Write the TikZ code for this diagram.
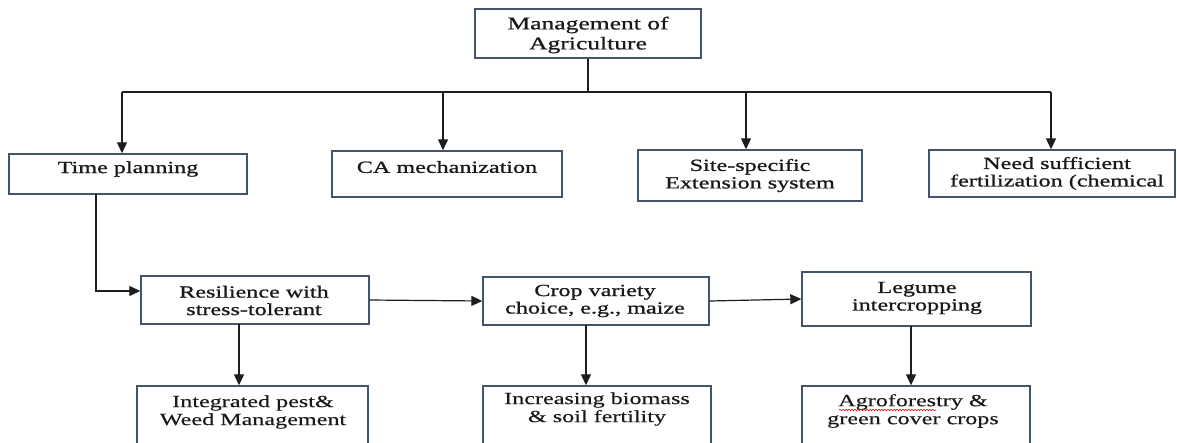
\documentclass[tikz,border=0pt]{standalone}
\usepackage{fontspec}
\setmainfont{Liberation Serif}[FakeStretch=1.42, FakeBold=0.3]
\newfontfamily\upfont{Liberation Serif}[FakeStretch=1.42, FakeBold=1.0]
\usetikzlibrary{arrows.meta,decorations.pathmorphing}
\definecolor{boxcol}{RGB}{68,84,106}
\definecolor{linecol}{RGB}{30,30,30}
\tikzset{
  box/.style={draw=boxcol, line width=1.4pt, rectangle, inner sep=0pt},
  uptxt/.style={align=center, inner sep=0pt, font=\upfont\fontsize{17}{17.5}\selectfont, text=black!90},
  lowtxt/.style={align=center, inner sep=0pt, font=\fontsize{17}{18}\selectfont, text=black!90},
  conn/.style={draw=linecol, line width=1.2pt},
  arr/.style={conn, -{Triangle[length=11pt,width=10pt]}},
}
\newcommand{\boxat}[5]{\node[box, minimum width=#4-#2, minimum height=#5-#3] (#1) at ({(#2+#4)/2},{(#3+#5)/2}) {};}
\begin{document}
\begin{tikzpicture}[x=1pt,y=-1pt]
\useasboundingbox (0,0) rectangle (1177,442);
\clip (0,0) rectangle (1177,442);
% boxes
\boxat{top}{475}{9}{701}{58}
\boxat{time}{9}{154}{247}{194}
\boxat{ca}{332}{151}{562}{197}
\boxat{site}{638}{150}{862}{201}
\boxat{need}{929}{150}{1175}{197}
\boxat{res}{141}{276}{369}{324}
\boxat{crop}{483}{277}{709}{325}
\boxat{leg}{802}{272}{1031}{326}
\boxat{ipm}{137}{386}{368}{470}
\boxat{bio}{483}{386}{711}{470}
\boxat{agro}{802}{386}{1030}{470}
% texts
\node[uptxt, font=\upfont\fontsize{18}{20}\selectfont] at (588,35) {Management of\\Agriculture};
\node[uptxt] at (128,169) {Time planning};
\node[uptxt] at (447,167) {CA mechanization};
\node[uptxt] at (750,175.5) {Site-specific\\Extension system};
\node[uptxt] at (1057,173.5) {Need sufficient\\fertilization (chemical};
\node[uptxt] at (254,300.5) {Resilience with\\stress-tolerant};
\node[uptxt] at (595,301) {Crop variety\\choice, e.g., maize};
\node[uptxt] at (917,298) {Legume\\intercropping};
\node[lowtxt] at (253,412) {Integrated pest\&\\Weed Management};
\node[lowtxt] at (597,409) {Increasing biomass\\\& soil fertility};
\node[lowtxt] at (913,411) {Agroforestry \&\\green cover crops};
\draw[red, line width=0.6pt, decorate, decoration={snake, amplitude=0.8pt, segment length=3pt}] (839,410) -- (936,410);
% connectors
\coordinate (split) at (588,92);
\coordinate (h1) at (122,92);
\coordinate (h2) at (443,92);
\coordinate (h3) at (746,92);
\coordinate (h4) at (1051,92);
\draw[conn] (top.south) -- (split);
\draw[conn] (h1) -- (h4);
\draw[arr] (h1) -- (h1 |- time.north);
\draw[arr] (h2) -- (h2 |- ca.north);
\draw[arr] (h3) -- (h3 |- site.north);
\draw[arr] (h4) -- (h4 |- need.north);
\coordinate (tdown) at (96,194);
\coordinate (tcorner) at (96,291);
\draw[arr] (tdown) -- (tcorner) -- (tcorner -| res.west);
\draw[arr] (res.east) -- (crop.west);
\draw[arr] (crop.east) -- (leg.west);
\coordinate (rd) at (239,324);
\coordinate (cd) at (586,325);
\coordinate (ld) at (911,326);
\draw[arr] (rd) -- (rd |- ipm.north);
\draw[arr] (cd) -- (cd |- bio.north);
\draw[arr] (ld) -- (ld |- agro.north);
\end{tikzpicture}
\end{document}
